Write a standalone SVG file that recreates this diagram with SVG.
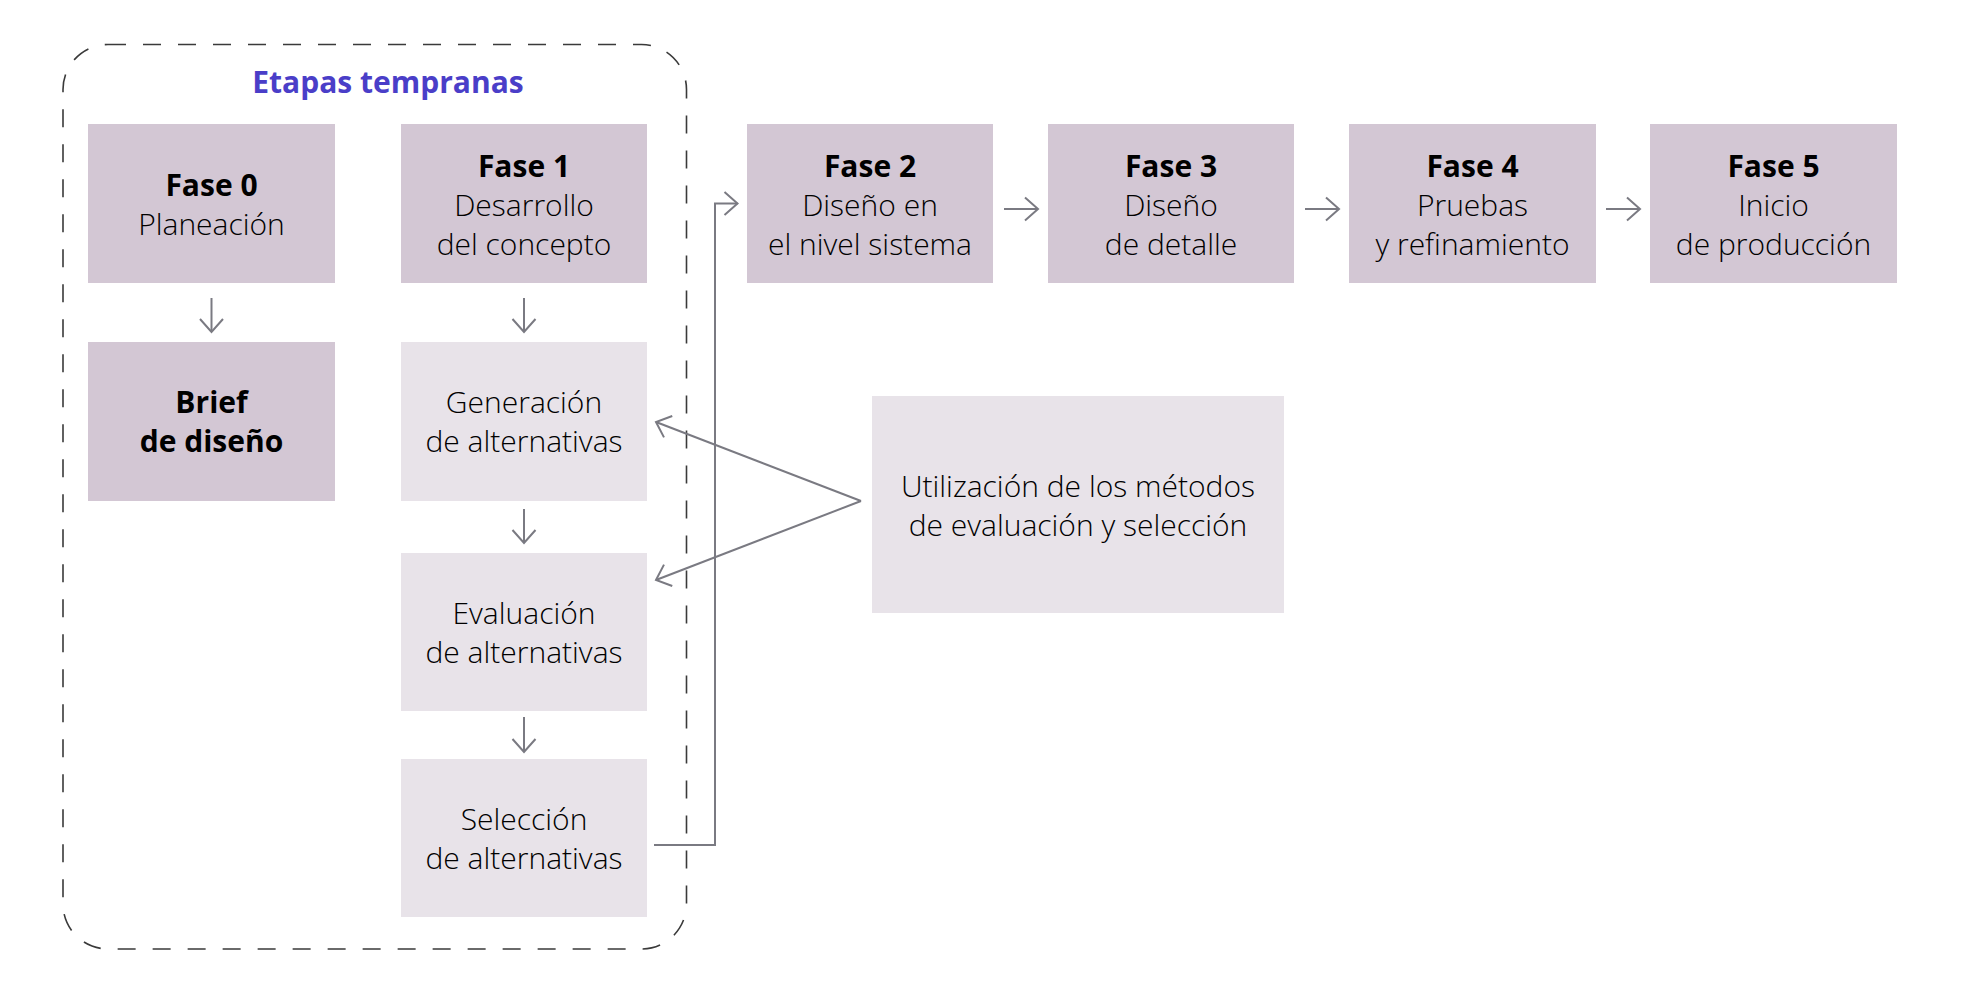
<svg xmlns="http://www.w3.org/2000/svg" width="1964" height="1000" viewBox="0 0 1964 1000">
<defs>
<style>
.bg{fill:#ffffff}
.dark{fill:#d3c7d4}
.light{fill:#e8e3e9}
.t{font-family:"Open Sans","Liberation Sans",sans-serif;font-size:30px;font-weight:300;fill:#000000;text-anchor:middle}
.b{font-weight:bold;font-size:30px}
.title{font-family:"Open Sans","Liberation Sans",sans-serif;font-size:30px;font-weight:bold;fill:#4a3ec8;text-anchor:middle}
.frame{fill:none;stroke:#3a3a3a;stroke-width:1.6;stroke-dasharray:18 17}
.c{fill:none;stroke:#7a7a82;stroke-width:2;marker-end:url(#ah)}
</style>
<marker id="ah" markerUnits="userSpaceOnUse" markerWidth="30" markerHeight="30" viewBox="-15 -15 30 30" refX="0" refY="0" orient="auto">
<path d="M-13,-11.5 L0,0 L-13,11.5" fill="none" stroke="#7a7a82" stroke-width="2"/>
</marker>
</defs>
<rect class="bg" x="0" y="0" width="1964" height="1000"/>

<g id="etapas-tempranas">
<rect class="frame" x="63" y="44.5" width="623.5" height="904.5" rx="45" ry="45"/>
<text class="title" x="388" y="93">Etapas tempranas</text>
</g>

<g id="fase0">
<rect class="dark" x="88" y="124" width="247" height="159"/>
<text class="t b" x="211.5" y="196">Fase 0</text>
<text class="t" x="211.5" y="235">Planeación</text>
</g>

<g id="fase1">
<rect class="dark" x="401" y="124" width="246" height="159"/>
<text class="t b" x="524" y="177">Fase 1</text>
<text class="t" x="524" y="216">Desarrollo</text>
<text class="t" x="524" y="255">del concepto</text>
</g>

<g id="fase2">
<rect class="dark" x="747" y="124" width="246" height="159"/>
<text class="t b" x="870" y="177">Fase 2</text>
<text class="t" x="870" y="216">Diseño en</text>
<text class="t" x="870" y="255">el nivel sistema</text>
</g>

<g id="fase3">
<rect class="dark" x="1048" y="124" width="246" height="159"/>
<text class="t b" x="1171" y="177">Fase 3</text>
<text class="t" x="1171" y="216">Diseño</text>
<text class="t" x="1171" y="255">de detalle</text>
</g>

<g id="fase4">
<rect class="dark" x="1349" y="124" width="247" height="159"/>
<text class="t b" x="1472.5" y="177">Fase 4</text>
<text class="t" x="1472.5" y="216">Pruebas</text>
<text class="t" x="1472.5" y="255">y refinamiento</text>
</g>

<g id="fase5">
<rect class="dark" x="1650" y="124" width="247" height="159"/>
<text class="t b" x="1773.5" y="177">Fase 5</text>
<text class="t" x="1773.5" y="216">Inicio</text>
<text class="t" x="1773.5" y="255">de producción</text>
</g>

<g id="brief">
<rect class="dark" x="88" y="342" width="247" height="159"/>
<text class="t b" x="211.5" y="413">Brief</text>
<text class="t b" x="211.5" y="452">de diseño</text>
</g>

<g id="generacion">
<rect class="light" x="401" y="342" width="246" height="159"/>
<text class="t" x="524" y="413">Generación</text>
<text class="t" x="524" y="452">de alternativas</text>
</g>

<g id="evaluacion">
<rect class="light" x="401" y="553" width="246" height="158"/>
<text class="t" x="524" y="624">Evaluación</text>
<text class="t" x="524" y="663">de alternativas</text>
</g>

<g id="seleccion">
<rect class="light" x="401" y="759" width="246" height="158"/>
<text class="t" x="524" y="830">Selección</text>
<text class="t" x="524" y="869">de alternativas</text>
</g>

<g id="utilizacion">
<rect class="light" x="872" y="396" width="412" height="217"/>
<text class="t" x="1078" y="497">Utilización de los métodos</text>
<text class="t" x="1078" y="536">de evaluación y selección</text>
</g>

<g id="connectors">
<path class="c" d="M211.5,298 V332"/>
<path class="c" d="M524,298 V332"/>
<path class="c" d="M524,509 V543"/>
<path class="c" d="M524,717 V752"/>
<path class="c" d="M1004,209 H1038"/>
<path class="c" d="M1305,209 H1339"/>
<path class="c" d="M1606,209 H1640"/>
<path class="c" d="M654,845 H715 V203.5 H737.5"/>
<path class="c" d="M861,501 L656,422"/>
<path class="c" d="M861,501 L656,580"/>
</g>
</svg>
